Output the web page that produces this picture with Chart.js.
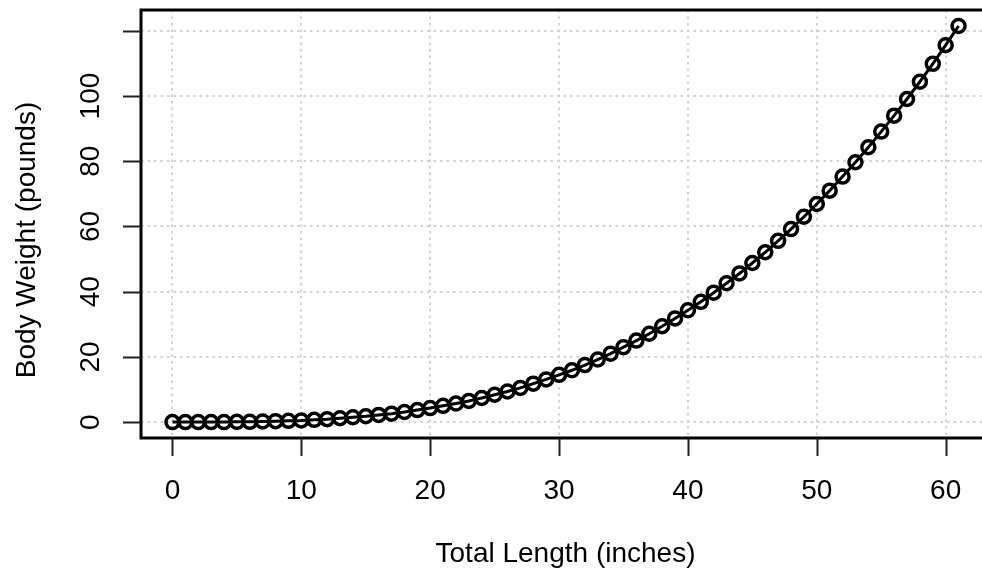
<!DOCTYPE html>
<html>
<head>
<meta charset="utf-8">
<script src="https://cdn.jsdelivr.net/npm/chart.js@4/dist/chart.umd.min.js"></script>
<style>
  html, body { margin: 0; padding: 0; background: #fff; overflow: hidden; }
  #wrap { width: 982px; height: 577px; overflow: hidden; }
</style>
</head>
<body>
<div id="wrap"><canvas id="chart" width="1000" height="577"></canvas></div>
<script>
// total length (inches) and body weight (pounds)
const lengths = [0,1,2,3,4,5,6,7,8,9,10,11,12,13,14,15,16,17,18,19,20,21,22,23,24,25,26,27,28,29,30,
  31,32,33,34,35,36,37,38,39,40,41,42,43,44,45,46,47,48,49,50,51,52,53,54,55,56,57,58,59,60,61]
const weights = [0,0,0,0,0,0.1,0.1,0.2,0.3,0.4,0.5,0.7,0.9,1.2,1.5,1.8,2.2,2.6,3.1,3.7,4.3,
  5.0,5.7,6.5,7.4,8.4,9.4,10.5,11.8,13.1,14.5,15.9,17.5,19.2,21.0,23.0,25.0,27.1,29.4,31.8,34.3,
  36.9,39.7,42.6,45.6,48.8,52.1,55.6,59.2,63.0,66.9,71.0,75.3,79.7,84.3,89.1,94.0,99.1,104.4,109.9,115.6,121.5]

const xTicks = [0,10,20,30,40,50,60]
const xTickLabels = ['0','10','20','30','40','50','60']
const yTicks = [0,20,40,60,80,100,120]
const yTickLabels = ['0','20','40','60','80','100',''] // R drops the 120 label

const xTitle = 'Total Length (inches)'
const yTitle = 'Body Weight (pounds)'
const font = '28px "Liberation Sans", Arial, sans-serif'

// R style box, ticks and labels
const baseAxes = {
    id: 'baseAxes',
    afterDraw(chart) {
        const ctx = chart.ctx
        const area = chart.chartArea
        const xs = chart.scales.x
        const ys = chart.scales.y
        ctx.save()
        ctx.strokeStyle = '#000'
        ctx.lineWidth = 3
        ctx.strokeRect(area.left, area.top, area.right - area.left, area.bottom - area.top)

        ctx.strokeStyle = '#222'
        ctx.lineWidth = 2
        ctx.beginPath()
        xTicks.forEach(v => {
            const px = Math.round(xs.getPixelForValue(v)) + 0.5
            ctx.moveTo(px, area.bottom)
            ctx.lineTo(px, area.bottom + 18)
        })
        yTicks.forEach(v => {
            const py = Math.round(ys.getPixelForValue(v)) + 0.5
            ctx.moveTo(area.left, py)
            ctx.lineTo(area.left - 18, py)
        })
        ctx.stroke()

        ctx.fillStyle = '#000'
        ctx.font = font
        ctx.textAlign = 'center'
        ctx.textBaseline = 'middle'
        xTicks.forEach((v, i) => {
            ctx.fillText(xTickLabels[i], xs.getPixelForValue(v), 491)
        })
        yTicks.forEach((v, i) => {
            ctx.save()
            ctx.translate(91, ys.getPixelForValue(v))
            ctx.rotate(-Math.PI / 2)
            ctx.fillText(yTickLabels[i], 0, 0)
            ctx.restore()
        })

        ctx.fillText(xTitle, (area.left + area.right) / 2, 554)
        ctx.save()
        ctx.translate(27, 240)
        ctx.rotate(-Math.PI / 2)
        ctx.fillText(yTitle, 0, 0)
        ctx.restore()
        ctx.restore()
    }
}

function main() {
    const canvas = document.querySelector('#chart')
    const gridOpts = {
        color: '#d3d3d3',
        lineWidth: 2,
        drawTicks: false
    }
    new Chart(canvas.getContext('2d'), {
        type: 'scatter',
        data: {
            datasets: [{
                data: lengths.map((l, i) => ({x: l, y: weights[i]})),
                showLine: true,
                borderColor: '#000',
                borderWidth: 3,
                pointRadius: 6.5,
                pointBorderWidth: 3.5,
                pointBackgroundColor: 'rgba(0,0,0,0)',
                pointBorderColor: '#000'
            }]
        },
        options: {
            responsive: false,
            devicePixelRatio: 1,
            animation: false,
            layout: { padding: { left: 141, top: 8, right: 10, bottom: 139 } },
            plugins: { legend: { display: false }, tooltip: { enabled: false } },
            scales: {
                x: {
                    type: 'linear',
                    min: -2.44,
                    max: 63.44,
                    afterBuildTicks: s => { s.ticks = xTicks.map(v => ({value: v})) },
                    ticks: { display: false },
                    border: { display: false, dash: [2.5, 4] },
                    grid: gridOpts
                },
                y: {
                    type: 'linear',
                    min: -4.87,
                    max: 126.4,
                    afterBuildTicks: s => { s.ticks = yTicks.map(v => ({value: v})) },
                    ticks: { display: false },
                    border: { display: false, dash: [2.5, 4] },
                    grid: gridOpts
                }
            }
        },
        plugins: [baseAxes]
    })
}

main()
</script>
</body>
</html>
